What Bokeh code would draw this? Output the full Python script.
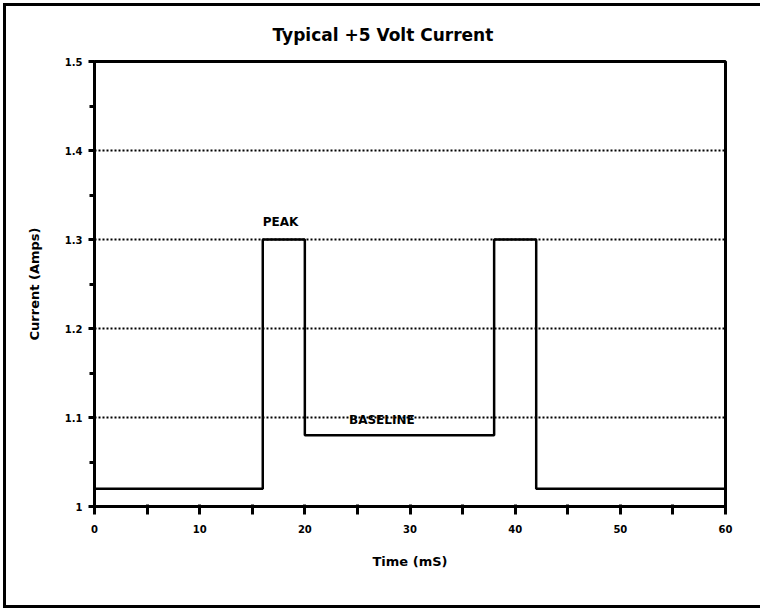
from bokeh.plotting import figure
from bokeh.models import Range1d, FixedTicker, CustomJSTickFormatter
from bokeh.core.properties import value
from bokeh.embed import file_html
from bokeh.resources import INLINE

# ---- data ----
time_ms = [0, 16, 20, 38, 42, 60]
current_amps = [1.02, 1.30, 1.08, 1.30, 1.02, 1.02]
y_ticks = [1.0, 1.1, 1.2, 1.3, 1.4, 1.5]
y_minor = [1.05, 1.15, 1.25, 1.35, 1.45]
grid_levels = [1.1, 1.2, 1.3, 1.4]
x_ticks = [0, 10, 20, 30, 40, 50, 60]
x_minor = [5, 15, 25, 35, 45, 55]
peak_label = ("PEAK", 16, 1.312)
base_label = ("BASELINE", 24.2, 1.097)

FONT = "DejaVu Sans"

# page frame: 3px border + 3px margin -> content starts at 6px; right edge falls outside the window
p = figure(width=775, height=605, output_backend="svg", toolbar_location=None,
           x_range=Range1d(0, 60), y_range=Range1d(1.0, 1.5),
           min_border_left=88, min_border_right=56, min_border_top=55, min_border_bottom=105)

p.styles = {"border": "3px solid black", "margin": "3px"}

p.title.text = "Typical +5 Volt Current"
p.title.align = "left"
p.title.vertical_align = "top"
p.title.offset = 178
p.title.standoff = 30
p.title.text_font = FONT
p.title.text_font_size = "17px"
p.title.text_font_style = "bold"
p.title.text_color = "black"

p.outline_line_color = "black"
p.outline_line_width = 3
p.outline_line_alpha = 1.0

p.xgrid.visible = False
p.ygrid.ticker = FixedTicker(ticks=grid_levels)
p.ygrid.grid_line_color = "black"
p.ygrid.grid_line_width = 2
p.ygrid.grid_line_dash = "2 2"

for ax in (p.xaxis[0], p.yaxis[0]):
    ax.axis_line_width = 3
    ax.axis_line_color = "black"
    ax.major_tick_line_width = 3
    ax.minor_tick_line_width = 3
    ax.major_tick_line_color = "black"
    ax.minor_tick_line_color = "black"
    ax.major_label_text_font = FONT
    ax.major_label_text_font_style = "bold"
    ax.major_label_text_font_size = "10px"
    ax.major_label_text_color = "black"
    ax.axis_label_text_font = FONT
    ax.axis_label_text_font_style = "bold"
    ax.axis_label_text_font_size = "13px"
    ax.axis_label_text_color = "black"

p.xaxis.ticker = FixedTicker(ticks=x_ticks, minor_ticks=x_minor)
p.xaxis.major_tick_out = 8
p.xaxis.major_tick_in = 2
p.xaxis.minor_tick_out = 8
p.xaxis.minor_tick_in = 2
p.xaxis.major_label_standoff = 10
p.xaxis.axis_label = "Time (mS)"
p.xaxis.axis_label_standoff = 18

p.yaxis.ticker = FixedTicker(ticks=y_ticks, minor_ticks=y_minor)
p.yaxis.formatter = CustomJSTickFormatter(code="return tick.toFixed(1).replace(/\\.0$/, '');")
p.yaxis.major_tick_out = 6
p.yaxis.major_tick_in = 0
p.yaxis.minor_tick_out = 5
p.yaxis.minor_tick_in = 0
p.yaxis.major_label_standoff = 6
p.yaxis.axis_label = "Current (Amps)"
p.yaxis.axis_label_standoff = 20

p.step(time_ms, current_amps, mode="after", line_color="black", line_width=2.5)

p.text(x=[peak_label[1]], y=[peak_label[2]], text=[peak_label[0]],
       text_font=value(FONT), text_font_style="bold", text_font_size="12px",
       text_align="left", text_baseline="bottom", text_color="black")
p.text(x=[base_label[1]], y=[base_label[2]], text=[base_label[0]],
       text_font=value(FONT), text_font_style="bold", text_font_size="12px",
       text_align="left", text_baseline="middle", text_color="black")

open("out.html", "w").write(file_html(p, INLINE))
